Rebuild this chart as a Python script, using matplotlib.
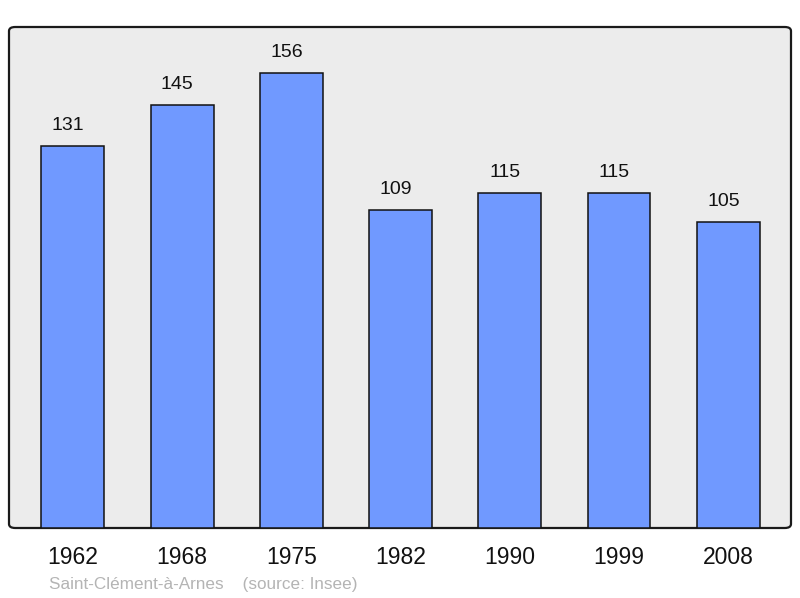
import matplotlib
matplotlib.use("Agg")
import matplotlib.pyplot as plt
from matplotlib.patches import FancyBboxPatch

years = ["1962", "1968", "1975", "1982", "1990", "1999", "2008"]
population = [131, 145, 156, 109, 115, 115, 105]

plt.rcParams["font.family"] = ["Liberation Sans", "DejaVu Sans"]

fig = plt.figure(figsize=(8, 5.98), dpi=100)
ax = fig.add_axes([9 / 800, 70 / 598, 782 / 800, 501 / 598])
ax.set_facecolor("none")

frame = FancyBboxPatch((0, 0), 1, 1, boxstyle="round,pad=0,rounding_size=0.008",
                       transform=ax.transAxes, facecolor="#ececec",
                       edgecolor="#1a1a1a", linewidth=1.6, zorder=0, clip_on=False)
ax.add_patch(frame)

x = list(range(len(years)))
ax.bar(x, population, width=0.575, color="#7099ff", edgecolor="#111111",
       linewidth=1.1, zorder=2)
for xi, v in zip(x, population):
    ax.annotate(str(v), (xi, v), xytext=(-3.5, 8.5), textcoords="offset points",
                ha="center", va="bottom", fontsize=14, color="#111111")

ax.set_xlim(-0.585, 6.575)
ax.set_ylim(0, 171.8)
for s in ax.spines.values():
    s.set_visible(False)
ax.set_yticks([])
ax.set_xticks(x)
ax.set_xticklabels(years, fontsize=16.5, color="#111111")
ax.tick_params(axis="x", length=0, pad=13)

fig.text(49 / 800, 1 - 584 / 598, "Saint-Clément-à-Arnes    (source: Insee)",
         fontsize=12.3, color="#b4b4b4", ha="left", va="center")

fig.savefig("out.png", dpi=100)
